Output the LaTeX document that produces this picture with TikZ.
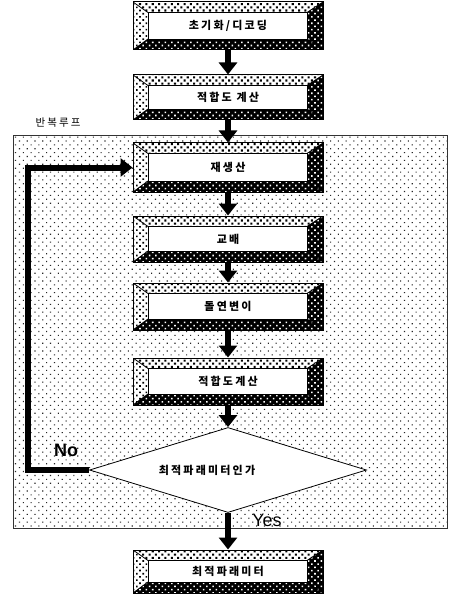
\documentclass[tikz,border=0pt]{standalone}
\usepackage{fontspec}
\setmainfont{Liberation Sans}
\newfontfamily\kr[LetterSpace=20]{Noto Sans CJK KR}
\usetikzlibrary{arrows.meta,shapes.geometric,patterns.meta}
\tikzset{
 bevel/.style={draw, line width=1pt, fill=white, minimum width=190pt, minimum height=#1, inner sep=0pt,
  font=\kr\bfseries\fontsize{11}{12}\selectfont,
  path picture={
   \coordinate (bvA) at (path picture bounding box.north west);
   \coordinate (bvB) at (path picture bounding box.north east);
   \coordinate (bvC) at (path picture bounding box.south east);
   \coordinate (bvD) at (path picture bounding box.south west);
   \coordinate (bva) at ([xshift=15pt,yshift=-10.5pt]bvA);
   \coordinate (bvb) at ([xshift=-16pt,yshift=-10.5pt]bvB);
   \coordinate (bvc) at ([xshift=-16pt,yshift=11pt]bvC);
   \coordinate (bvd) at ([xshift=15pt,yshift=11pt]bvD);
   \fill[pattern={Dots[distance=4.5pt,angle=45,radius=1.45pt]}] (bvA)--(bvB)--(bvb)--(bva)--cycle;
   \fill[pattern={Dots[distance=4.5pt,angle=45,radius=1.15pt]}] (bvA)--(bva)--(bvd)--(bvD)--cycle;
   \fill[black] (bvB)--(bvC)--(bvc)--(bvb)--cycle (bvD)--(bvd)--(bvc)--(bvC)--cycle;
   \fill[pattern={Dots[distance=4.5pt,angle=45,radius=1.1pt]}, pattern color=white]
     (bvB)--(bvC)--(bvc)--(bvb)--cycle (bvD)--(bvd)--(bvc)--(bvC)--cycle;
   \draw[line width=0.8pt, fill=white] (bva) rectangle (bvc);
   \draw[line width=0.8pt] (bvA)--(bva) (bvB)--(bvb) (bvC)--(bvc) (bvD)--(bvd);
  }},
 arr/.style={line width=6pt, -{Triangle[length=12pt,width=18pt]}},
 lbl/.style={font=\kr\bfseries\fontsize{11}{12}\selectfont, inner sep=0pt}
}
\begin{document}
\begin{tikzpicture}[x=1pt,y=-1pt]
\useasboundingbox (0,0) rectangle (449,596);
\fill[white] (0,0) rectangle (449,596);
% loop region
\fill[pattern={Dots[distance=5.5pt,angle=45,radius=0.8pt]}, pattern color=black!85] (13,135) rectangle (447,528);
\draw[line width=0.9pt, black!80] (13,135) rectangle (447,528);
\node[lbl, font=\kr\fontsize{10.5}{12}\selectfont] (looplbl) at (58,123) {반복루프};

\node[bevel=48pt] (b1) at (228,26) {초기화/디코딩};
\node[bevel=45pt] (b2) at (228,97.5) {적합도 계산};
\node[bevel=49pt] (b3) at (228,167.5) {재생산};
\node[bevel=46pt] (b4) at (228,239) {교배};
\node[bevel=47pt] (b5) at (228,306.5) {돌연변이};
\node[bevel=47pt] (b6) at (228,381.5) {적합도계산};
\node[draw, line width=0.8pt, fill=white, shape=diamond, minimum width=277pt, minimum height=85pt, inner sep=0pt] (dia) at (228,470) {};
\node[lbl] (diatext) at (207,470) {최적파래미터인가};
\node[bevel=43pt] (b7) at (228,571.5) {최적파래미터};

\draw[arr] (b1.south) -- (b2.north);
\draw[arr] (b2.south) -- (b3.north);
\draw[arr] (b3.south) -- (b4.north);
\draw[arr] (b4.south) -- (b5.north);
\draw[arr] (b5.south) -- (b6.north);
\draw[arr] (b6.south) -- (dia.north);
\draw[arr] (dia.south) -- (b7.north);
\coordinate (fb) at (28,470);
\draw[arr, line join=miter] (dia.west) -- (fb) |- (b3.west);

\node[font=\bfseries\fontsize{18}{19}\selectfont, inner sep=0pt] (no) at (66,450) {No};
\node[font=\fontsize{18}{19}\selectfont, inner sep=0pt] (yes) at (267,520) {Yes};
\end{tikzpicture}
\end{document}
